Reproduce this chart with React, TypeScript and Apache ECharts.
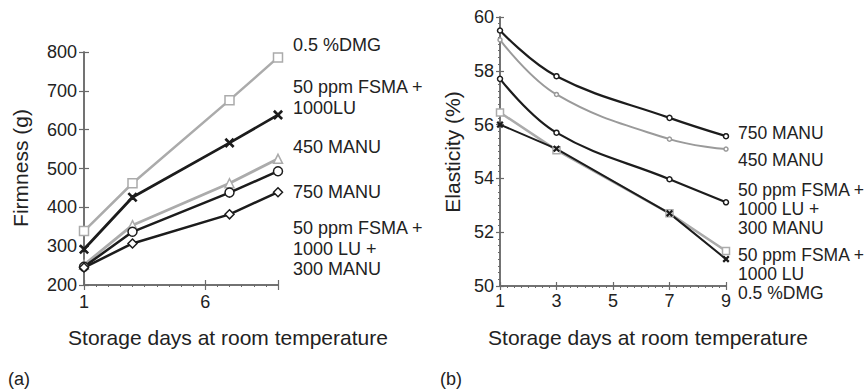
import React, { useEffect, useRef } from "react";
import * as echarts from "echarts";

const days = [1, 3, 7, 9];

const firmDMG = [339, 462, 676, 786];
const firmFSMALU = [292, 426, 566, 638];
const firm450 = [252, 354, 462, 525];
const firm750 = [247, 337, 438, 493];
const firmFSMALU300 = [245, 307, 382, 439];

const elas750 = [59.5, 57.8, 56.25, 55.57];
const elas450 = [59.15, 57.12, 55.46, 55.09];
const elasFSMALU300 = [57.7, 55.7, 53.97, 53.11];
const elasFSMALU = [56.0, 55.1, 52.7, 51.0];
const elasDMG = [56.45, 55.05, 52.7, 51.3];

const leftLabels = [
  { lines: ["0.5 %DMG"], y: 45 },
  { lines: ["50 ppm FSMA +", "1000LU"], y: 87 },
  { lines: ["450 MANU"], y: 147 },
  { lines: ["750 MANU"], y: 192 },
  { lines: ["50 ppm FSMA +", "1000 LU +", "300 MANU"], y: 228 },
];
const rightLabels = [
  { lines: ["750 MANU"], y: 133 },
  { lines: ["450 MANU"], y: 160 },
  { lines: ["50 ppm FSMA +", "1000 LU +", "300 MANU"], y: 190 },
  { lines: ["50 ppm FSMA +", "1000 LU", "0.5 %DMG"], y: 255 },
];

const FONT = "'Liberation Sans', Arial, Helvetica, sans-serif";
const TXT = "#222";
const AX = "#6a6a6a";
const BLACK = "#1c1c1c";
const GRAY = "#ababab";
const XSYM = "path://M0,1L1,0L5,4L9,0L10,1L6,5L10,9L9,10L5,6L1,10L0,9L4,5Z";

const zip = (ys: number[]) => days.map((d, i) => [d, ys[i]]);

export default function App() {
  const ref = useRef<HTMLDivElement>(null);
  useEffect(() => {
    document.body.style.margin = "0";
    if (!ref.current) return;
    const chart = echarts.init(ref.current, undefined, { renderer: "svg" });

    const axisBase = (extra: any) => ({
      type: "value",
      axisLine: { show: true, lineStyle: { color: AX, width: 1.5 } },
      splitLine: { show: false },
      ...extra,
    });

    const xAxes = [
      axisBase({ gridIndex: 0, min: 1, max: 9, interval: 5,
        axisTick: { show: true, length: 5, lineStyle: { color: AX, width: 1.2 } },
        minorTick: { show: true, splitNumber: 10, length: 2, lineStyle: { color: AX } },
        axisLabel: { color: TXT, fontSize: 18, fontFamily: FONT, margin: 8, showMaxLabel: false } }),
      axisBase({ gridIndex: 0, min: 1, max: 9, interval: 5, position: "bottom",
        axisTick: { show: true, inside: true, length: 5, lineStyle: { color: AX, width: 1.2 } },
        axisLabel: { show: false } }),
      axisBase({ gridIndex: 1, min: 1, max: 9, interval: 2,
        axisTick: { show: true, length: 4, lineStyle: { color: AX, width: 1.2 } },
        minorTick: { show: true, splitNumber: 8, length: 2, lineStyle: { color: AX } },
        axisLabel: { color: TXT, fontSize: 18, fontFamily: FONT, margin: 6 } }),
      axisBase({ gridIndex: 1, min: 1, max: 9, interval: 2, position: "bottom",
        axisTick: { show: true, inside: true, length: 4, lineStyle: { color: AX, width: 1.2 } },
        axisLabel: { show: false } }),
    ];
    const yAxes = [
      axisBase({ gridIndex: 0, min: 200, max: 800, interval: 100,
        axisTick: { show: true, length: 5, lineStyle: { color: AX, width: 1.2 } },
        axisLabel: { color: TXT, fontSize: 18, fontFamily: FONT, margin: 7 } }),
      axisBase({ gridIndex: 0, min: 200, max: 800, interval: 100, position: "left",
        axisTick: { show: true, inside: true, length: 5, lineStyle: { color: AX, width: 1.2 } },
        axisLabel: { show: false } }),
      axisBase({ gridIndex: 1, min: 50, max: 60, interval: 2,
        axisTick: { show: true, length: 4, lineStyle: { color: AX, width: 1.2 } },
        minorTick: { show: true, splitNumber: 8, length: 2, lineStyle: { color: AX } },
        axisLabel: { color: TXT, fontSize: 18, fontFamily: FONT, margin: 6 } }),
      axisBase({ gridIndex: 1, min: 50, max: 60, interval: 2, position: "left",
        axisTick: { show: true, inside: true, length: 4, lineStyle: { color: AX, width: 1.2 } },
        axisLabel: { show: false } }),
    ];

    const line = (name: string, data: number[], xi: number, yi: number, color: string, width: number,
      symbol: string, size: number, smooth: number | boolean, fill = "#fff", z = 2) => ({
      type: "line",
      name,
      xAxisIndex: xi,
      yAxisIndex: yi,
      data: zip(data),
      smooth,
      z,
      symbol,
      symbolSize: size,
      showSymbol: true,
      lineStyle: { color, width },
      itemStyle: { color: fill, borderColor: color, borderWidth: 1.5 },
      emphasis: { disabled: true },
    });

    const series = [
      line("0.5 %DMG", firmDMG, 0, 0, GRAY, 2.5, "rect", 9, false),
      line("50 ppm FSMA + 1000LU", firmFSMALU, 0, 0, BLACK, 2.8, XSYM, 8, false, BLACK),
      line("450 MANU", firm450, 0, 0, GRAY, 2.8, "triangle", 9, false),
      line("750 MANU", firm750, 0, 0, BLACK, 2.5, "circle", 9, false, "#fff", 3),
      line("50 ppm FSMA + 1000 LU + 300 MANU", firmFSMALU300, 0, 0, BLACK, 2.5, "diamond", 9, false, "#fff", 3),
      line("0.5 %DMG", elasDMG, 2, 2, GRAY, 2.5, "rect", 7, false),
      line("50 ppm FSMA + 1000 LU", elasFSMALU, 2, 2, BLACK, 2, XSYM, 5, false, BLACK),
      line("450 MANU", elas450, 2, 2, "#9a9a9a", 2, "circle", 4, 0.4),
      line("750 MANU", elas750, 2, 2, BLACK, 2.2, "circle", 5, 0.4, "#fff", 3),
      line("50 ppm FSMA + 1000 LU + 300 MANU", elasFSMALU300, 2, 2, BLACK, 2.2, "circle", 5, 0.4, "#fff", 3),
    ];

    const textEl = (text: string, x: number, y: number, extra: any = {}) => ({
      type: "text",
      x,
      y,
      style: { text, fill: TXT, font: `18px ${FONT}`, textVerticalAlign: "middle", ...extra },
    });

    const graphic: any[] = [];
    leftLabels.forEach((l) => l.lines.forEach((t, i) => graphic.push(textEl(t, 293, l.y + i * 20.5))));
    rightLabels.forEach((l) => l.lines.forEach((t, i) => graphic.push(textEl(t, 738, l.y + i * 19, { font: `17.5px ${FONT}` }))));
    graphic.push(textEl("Storage days at room temperature", 228, 337, { font: `21px ${FONT}`, textAlign: "center" }));
    graphic.push(textEl("Storage days at room temperature", 648, 337, { font: `21px ${FONT}`, textAlign: "center" }));
    graphic.push(textEl("(a)", 8, 379, { font: `18px ${FONT}` }));
    graphic.push(textEl("(b)", 440, 379, { font: `18px ${FONT}` }));
    graphic.push({
      type: "text", x: 20, y: 168, rotation: Math.PI / 2,
      style: { text: "Firmness (g)", fill: TXT, font: `21px ${FONT}`, textAlign: "center", textVerticalAlign: "middle" },
    });
    graphic.push({
      type: "text", x: 452, y: 152, rotation: Math.PI / 2,
      style: { text: "Elasticity (%)", fill: TXT, font: `21px ${FONT}`, textAlign: "center", textVerticalAlign: "middle" },
    });

    chart.setOption({
      animation: false,
      backgroundColor: "#fff",
      grid: [
        { left: 84, top: 52, width: 194, height: 233, containLabel: false },
        { left: 500, top: 17, width: 226, height: 269, containLabel: false },
      ],
      xAxis: xAxes,
      yAxis: yAxes,
      series,
      graphic,
    });
    return () => chart.dispose();
  }, []);
  return <div ref={ref} style={{ width: 864, height: 391 }} />;
}
